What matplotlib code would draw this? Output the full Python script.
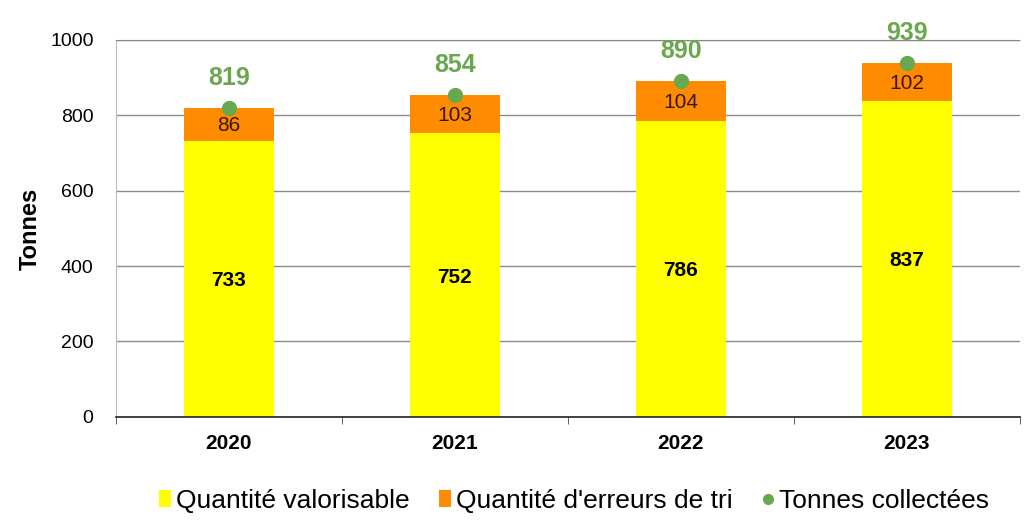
import matplotlib
matplotlib.use("Agg")
import matplotlib.pyplot as plt
from matplotlib.lines import Line2D
from matplotlib.patches import Patch

plt.rcParams['font.family'] = ['Liberation Sans', 'DejaVu Sans']

years = ["2020", "2021", "2022", "2023"]
valorisable = [733, 752, 786, 837]
erreurs = [86, 103, 104, 102]
collectees = [819, 854, 890, 939]

yellow = "#ffff00"
orange = "#ff8c00"
green = "#6aa84f"

fig = plt.figure(figsize=(10.25, 5.25), dpi=100)
ax = fig.add_axes([0.113, 0.206, 0.882, 0.718])

x = list(range(len(years)))
ax.bar(x, valorisable, width=0.4, color=yellow, zorder=2)
ax.bar(x, erreurs, width=0.4, bottom=valorisable, color=orange, zorder=2)
ax.scatter(x, collectees, s=100, color=green, zorder=4, clip_on=False)

# Labels
for i in x:
    ax.text(i, valorisable[i] / 2 - 5, str(valorisable[i]), ha="center", va="center",
            fontsize=15, fontweight="bold", color="black", zorder=5)
    ax.text(i, valorisable[i] + erreurs[i] / 2 - 4, str(erreurs[i]), ha="center", va="center",
            fontsize=15, color="#3a1500", zorder=5)
    ax.text(i, collectees[i] + 62, str(collectees[i]), ha="center", va="baseline",
            fontsize=18, fontweight="bold", color=green, zorder=5, clip_on=False)

ax.set_xlim(-0.5, 3.5)
ax.set_ylim(0, 1000)
ax.set_yticks(range(0, 1001, 200))
ax.tick_params(axis="y", length=0, labelsize=14, pad=16)
ax.set_xticks(x)
ax.set_xticklabels(years, fontsize=15, fontweight="bold")
ax.tick_params(axis="x", length=0, pad=12)
ax.set_xticks([-0.5, 0.5, 1.5, 2.5, 3.5], minor=True)
ax.tick_params(axis="x", which="minor", length=5, direction="out", color="#444444")

ax.yaxis.grid(True, color="#8c8c8c", linewidth=1, zorder=0)
ax.set_axisbelow(True)
ax.set_ylabel("Tonnes", fontsize=17, fontweight="bold", labelpad=6)

ax.spines["right"].set_visible(False)
ax.spines["top"].set_linestyle((0, (1, 1)))
ax.spines["top"].set_color("#888888")
ax.spines["left"].set_linestyle((0, (1, 1)))
ax.spines["left"].set_color("#bbbbbb")
ax.spines["bottom"].set_color("#333333")
ax.spines["bottom"].set_linewidth(1.3)

handles = [
    Patch(facecolor=yellow, label="Quantité valorisable"),
    Patch(facecolor=orange, label="Quantité d'erreurs de tri"),
    Line2D([], [], marker="o", linestyle="none", color=green, markersize=7, label="Tonnes collectées"),
]
fig.legend(handles=handles, loc="center", bbox_to_anchor=(0.56, 0.046), ncol=3, frameon=False,
           fontsize=19, handlelength=0.45, handleheight=0.6, handletextpad=0.2, columnspacing=1.1)

fig.savefig("out.png", dpi=100)
